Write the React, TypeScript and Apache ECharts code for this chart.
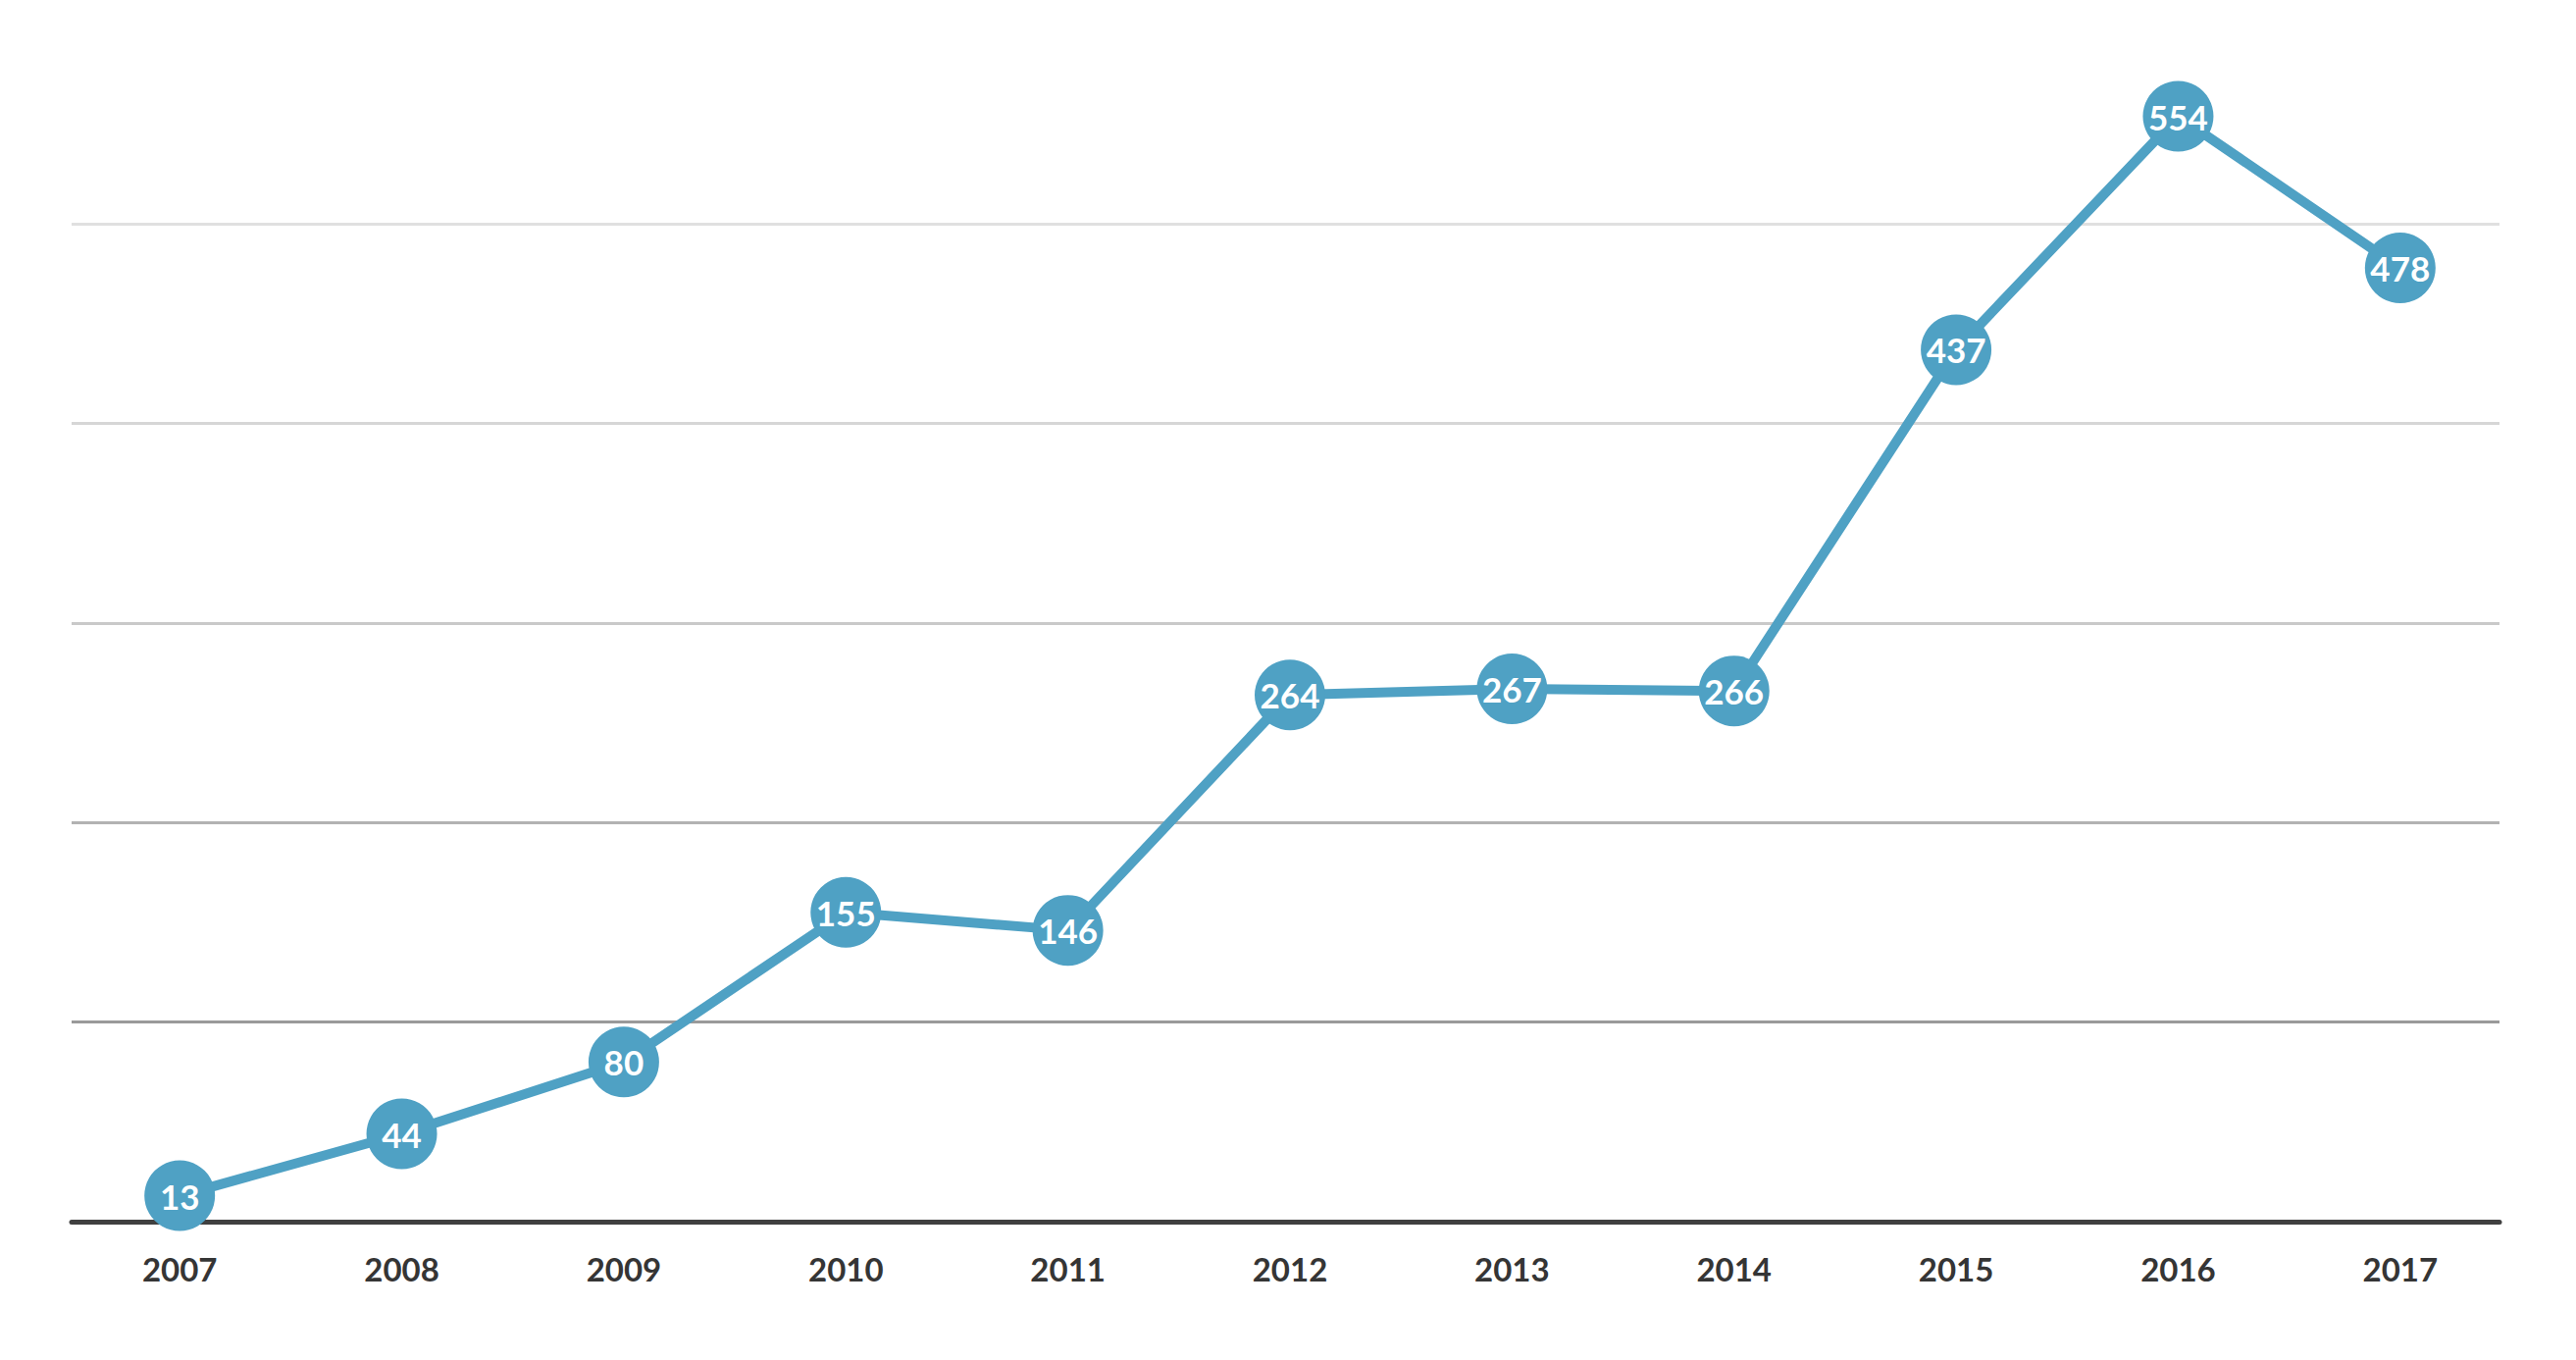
import React, { useEffect, useRef } from "react";
import * as echarts from "echarts";

const years = ["2007", "2008", "2009", "2010", "2011", "2012", "2013", "2014", "2015", "2016", "2017"];
const values = [13, 44, 80, 155, 146, 264, 267, 266, 437, 554, 478];
const gridColors = ["rgba(0,0,0,0)", "#9a9a9a", "#b2b2b2", "#c9c9c9", "#d6d6d6", "#e0e0e0", "rgba(0,0,0,0)"];

export default function App() {
  const ref = useRef<HTMLDivElement>(null);
  useEffect(() => {
    document.body.style.margin = "0";
    const chart = echarts.init(ref.current!, null, { renderer: "svg" });
    chart.setOption({
      animation: false,
      backgroundColor: "#ffffff",
      grid: [
        { left: 70, right: 66, top: 25, bottom: 141, containLabel: false },
        { left: 73, right: 78, top: 25, bottom: 141, containLabel: false },
      ],
      xAxis: [
        {
          type: "category",
          gridIndex: 0,
          data: years,
          boundaryGap: true,
          axisLine: { show: false },
          axisTick: { show: false },
          axisLabel: {
            color: "#353535",
            fontFamily: "Lato",
            fontWeight: "bold",
            fontSize: 33,
            margin: 31,
          },
        },
        {
          type: "category",
          gridIndex: 1,
          data: years,
          boundaryGap: true,
          axisLine: { show: true, lineStyle: { color: "#404040", width: 5 } },
          axisTick: { show: false },
          axisLabel: { show: false },
          z: 1,
        },
      ],
      yAxis: [
        {
          type: "value",
          gridIndex: 0,
          min: 0,
          max: 600,
          interval: 100,
          axisLine: { show: false },
          axisTick: { show: false },
          axisLabel: { show: false },
          splitLine: { show: false },
        },
        {
          type: "value",
          gridIndex: 1,
          min: 0,
          max: 600,
          interval: 100,
          axisLine: { show: false },
          axisTick: { show: false },
          axisLabel: { show: false },
          splitLine: { show: true, lineStyle: { color: gridColors, width: 3 } },
        },
      ],
      series: [
        {
          type: "line",
          xAxisIndex: 0,
          yAxisIndex: 0,
          data: values,
          symbol: "circle",
          symbolSize: 72,
          lineStyle: { color: "#4fa1c4", width: 10 },
          itemStyle: { color: "#4fa1c4" },
          label: {
            show: true,
            position: "inside",
            color: "#ffffff",
            fontFamily: "Lato",
            fontWeight: "bold",
            fontSize: 35,
          },
          z: 5,
        },
      ],
    });
    return () => chart.dispose();
  }, []);
  return <div ref={ref} style={{ position: "fixed", left: 0, top: 0, width: "2626px", height: "1386px" }} />;
}
